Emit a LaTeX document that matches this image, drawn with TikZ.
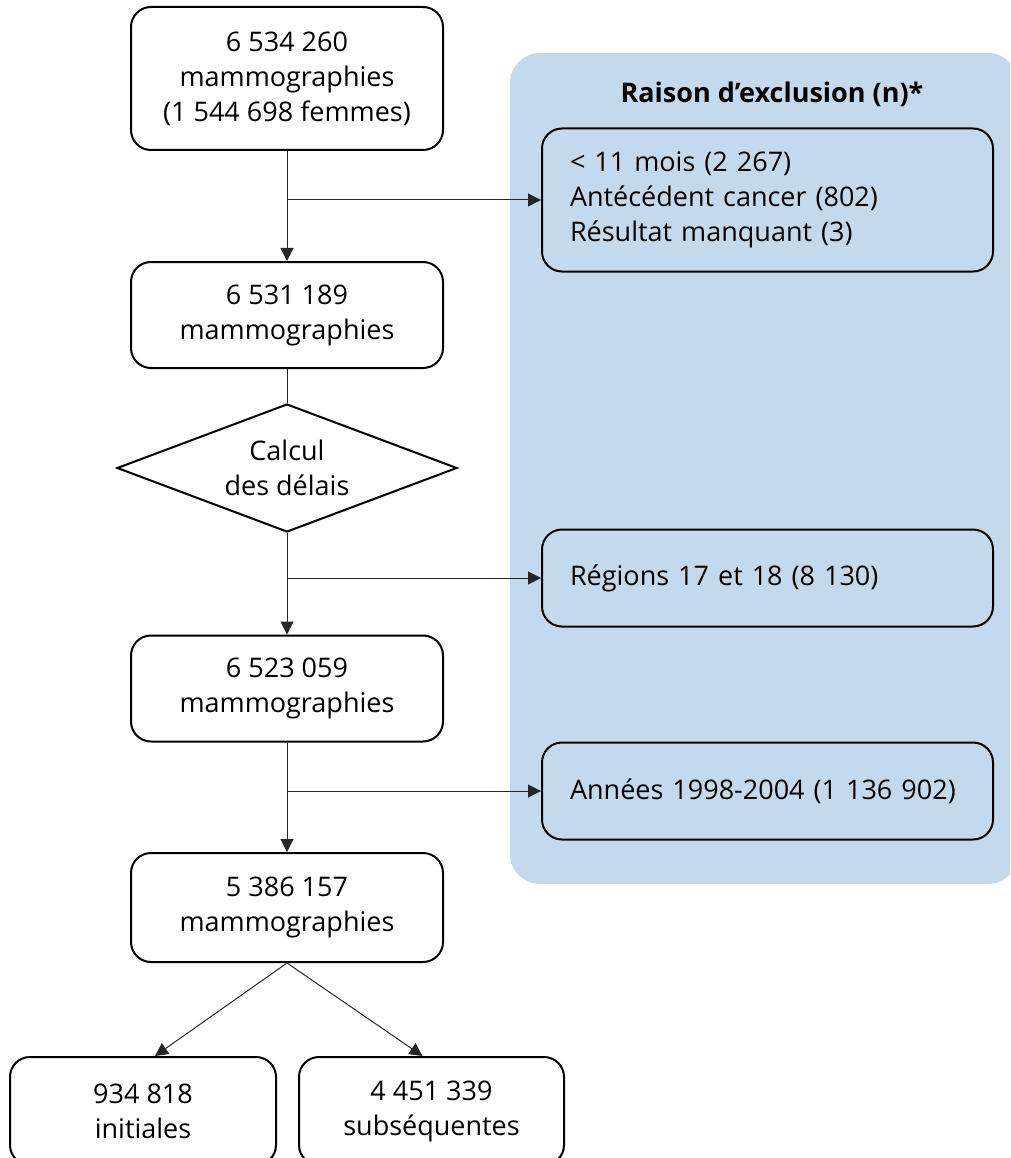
\documentclass[tikz,border=0pt]{standalone}
\usepackage{fontspec}
\setmainfont{Open Sans}
\usetikzlibrary{shapes.geometric}
\usetikzlibrary{arrows.meta}

\definecolor{panneau}{RGB}{197,217,236}
\tikzset{
  texte/.style={font=\fontsize{27}{35}\selectfont},
  boite/.style={texte, draw, line width=2pt, rounded corners=20pt, fill=white,
    align=center, minimum width=312pt, minimum height=106pt, inner sep=0pt},
  exclu/.style={texte, draw, line width=2pt, rounded corners=20pt, fill=panneau,
    align=left, text width=395pt, inner xsep=28pt, inner ysep=0pt, minimum width=451pt},
  losange/.style={texte, draw, diamond, aspect=2.66, line width=2pt, fill=white,
    minimum width=340pt, minimum height=128pt, inner sep=0pt, align=center},
  lien/.style={line width=1pt, draw=black!85},
  fleche/.style={lien, -{Triangle[length=13pt,width=13pt]}}
}

\begin{document}
\begin{tikzpicture}[x=1pt,y=-1pt]
\clip (0,0) rectangle (1010,1158);
% panneau des exclusions
\fill[panneau, rounded corners=30pt] (510,53) rectangle (1018,884);
\node[texte, font=\fontsize{27}{35}\selectfont\bfseries] (titre) at (772,94) {Raison d’exclusion (n)*};
\node[exclu, minimum height=143pt] (ex1) at (767.5,200) {< 11 mois (2 267)\\Antécédent cancer (802)\\Résultat manquant (3)};
\node[exclu, minimum height=97pt] (ex2) at (767.5,578) {Régions 17 et 18 (8 130)};
\node[exclu, minimum height=97pt] (ex3) at (767.5,791) {Années 1998-2004 (1 136 902)};
% colonne principale
\node[boite, minimum height=143pt] (m1) at (287,78.5) {6 534 260\\mammographies\\(1 544 698 femmes)};
\node[boite] (m2) at (287,315) {6 531 189\\mammographies};
\node[losange] (calc) at (287,468) {Calcul\\des délais};
\node[boite] (m3) at (287,688.5) {6 523 059\\mammographies};
\node[boite, minimum height=109pt] (m4) at (287,907.5) {5 386 157\\mammographies};
\node[boite, minimum width=266pt, minimum height=108pt] (ini) at (143,1111) {934 818\\initiales};
\node[boite, minimum width=265pt, minimum height=108pt] (sub) at (431.5,1111) {4 451 339\\subséquentes};
% liens
\draw[fleche] (m1) -- (m2);
\draw[fleche] (m1.south |- ex1.west) -- (ex1.west);
\draw[lien] (m2) -- (calc);
\draw[fleche] (calc) -- (m3);
\draw[fleche] (calc.south |- ex2.west) -- (ex2.west);
\draw[fleche] (m3) -- (m4);
\draw[fleche] (m3.south |- ex3.west) -- (ex3.west);
\draw[fleche] (m4.south) -- ([xshift=12pt]ini.north);
\draw[fleche] (m4.south) -- ([xshift=-9pt]sub.north);
\end{tikzpicture}
\end{document}
